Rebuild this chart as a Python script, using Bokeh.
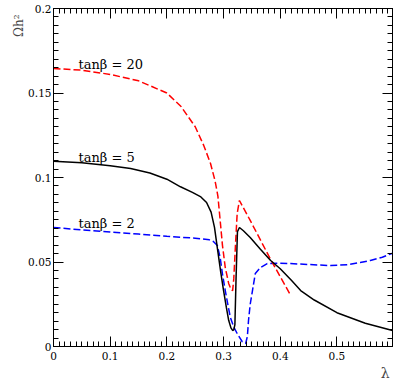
from bokeh.plotting import figure
from bokeh.models import Range1d, FixedTicker, LinearAxis, Label, Title, CustomJSTickFormatter
from bokeh.embed import file_html
from bokeh.resources import INLINE

# tan(beta) = 5 (solid black)
lam5 = [0.0, 0.05, 0.10, 0.136, 0.17, 0.20, 0.224, 0.245, 0.26, 0.27, 0.278, 0.284,
        0.29, 0.295, 0.30, 0.305, 0.309, 0.313, 0.316, 0.318, 0.320, 0.322, 0.3245,
        0.328, 0.335, 0.347, 0.365, 0.383, 0.40, 0.42, 0.436, 0.46, 0.50, 0.55, 0.598]
om5 = [0.1096, 0.1087, 0.1070, 0.1053, 0.1027, 0.0990, 0.0945, 0.0912, 0.0885, 0.0852, 0.0795, 0.0705,
       0.0560, 0.0440, 0.0330, 0.0230, 0.0155, 0.0110, 0.0095, 0.0098, 0.0130, 0.0400, 0.0680,
       0.0704, 0.0685, 0.0645, 0.0575, 0.0509, 0.0460, 0.0390, 0.0331, 0.0275, 0.0200, 0.0138, 0.0095]

# tan(beta) = 20 (dashed red)
lam20 = [0.0, 0.05, 0.10, 0.15, 0.20, 0.225, 0.25, 0.265, 0.277,
         0.285, 0.29, 0.294, 0.298, 0.303, 0.309, 0.3135, 0.316, 0.318, 0.321, 0.324,
         0.328, 0.347, 0.383, 0.418]
om20 = [0.1645, 0.1635, 0.1610, 0.1572, 0.1500, 0.1420, 0.1300, 0.1190, 0.1083,
        0.0980, 0.0890, 0.0746, 0.0600, 0.0467, 0.0373, 0.0335, 0.0331, 0.0400, 0.0600, 0.0787,
        0.0864, 0.0746, 0.0515, 0.0305]

# tan(beta) = 2 (dashed blue)
lam2 = [0.0, 0.05, 0.10, 0.15, 0.20, 0.25, 0.275, 0.282, 0.289, 0.294, 0.298, 0.303,
        0.308, 0.312, 0.318, 0.324, 0.333, 0.339, 0.342, 0.344, 0.347, 0.351, 0.356, 0.365,
        0.377, 0.40, 0.418, 0.45, 0.489, 0.52, 0.541, 0.559, 0.58, 0.598]
om2 = [0.0704, 0.0690, 0.0678, 0.0665, 0.0652, 0.0641, 0.0631, 0.0621, 0.0598, 0.0527, 0.0430, 0.0331,
       0.0240, 0.0172, 0.0115, 0.0077, 0.0028, 0.0018, 0.0060, 0.0154, 0.0250, 0.0331, 0.0432, 0.0467,
       0.0491, 0.0493, 0.0491, 0.0485, 0.0479, 0.0484, 0.0497, 0.0509, 0.0528, 0.0552]

x_ticks = [0.0, 0.1, 0.2, 0.3, 0.4, 0.5]
y_ticks = [0.0, 0.05, 0.1, 0.15, 0.2]

labels = ["tan\u03b2 = 20", "tan\u03b2 = 5", "tan\u03b2 = 2"]
label_x = [0.044, 0.044, 0.044]
label_y = [0.1669, 0.1118, 0.0728]

y_title = "\u03a9h\u00b2"
x_title = "\u03bb"

FONT = "DejaVu Serif"

p = figure(width=394, height=382, output_backend="svg", toolbar_location=None,
           x_range=Range1d(0, 0.598), y_range=Range1d(0, 0.2),
           min_border_left=53, min_border_right=2, min_border_top=8, min_border_bottom=36,
           x_axis_location=None, y_axis_location=None)
p.grid.visible = False
p.outline_line_color = "black"
p.outline_line_width = 1
p.background_fill_color = "white"
p.border_fill_color = "white"

x_minor = [round(i * 0.01, 3) for i in range(0, 60)]
y_minor = [round(i * 0.005, 4) for i in range(0, 41)]
fmt = CustomJSTickFormatter(code="return String(parseFloat(tick.toFixed(3)));")
blank = CustomJSTickFormatter(code="return '';")

def style_axis(ax):
    ax.axis_line_color = "black"
    ax.major_tick_line_color = "black"
    ax.minor_tick_line_color = "black"
    ax.major_tick_in = 10
    ax.major_tick_out = 0
    ax.minor_tick_in = 5
    ax.minor_tick_out = 0
    ax.major_label_text_font = FONT
    ax.major_label_text_font_size = "10.5px"
    ax.major_label_text_color = "black"

xb = LinearAxis(ticker=FixedTicker(ticks=x_ticks, minor_ticks=x_minor), formatter=fmt)
style_axis(xb)
xb.major_label_standoff = 5
p.add_layout(xb, "below")
xt = LinearAxis(ticker=FixedTicker(ticks=x_ticks, minor_ticks=x_minor), formatter=blank)
style_axis(xt)
xt.major_label_standoff = 0
p.add_layout(xt, "above")

yl = LinearAxis(ticker=FixedTicker(ticks=y_ticks, minor_ticks=y_minor), formatter=fmt)
style_axis(yl)
yl.major_label_standoff = 2
p.add_layout(yl, "left")
yr = LinearAxis(ticker=FixedTicker(ticks=y_ticks, minor_ticks=y_minor), formatter=blank)
style_axis(yr)
yr.major_label_standoff = 0
p.add_layout(yr, "right")

p.line(lam2, om2, line_color="#0000ff", line_width=1.5, line_dash="7 3")
p.line(lam20, om20, line_color="#ff0000", line_width=1.5, line_dash="7 3")
p.line(lam5, om5, line_color="black", line_width=1.5)

for t, lx, ly in zip(labels, label_x, label_y):
    p.add_layout(Label(x=lx, y=ly, text=t, text_font=FONT, text_font_size="13px",
                       text_color="black", text_align="left", text_baseline="alphabetic"))

p.add_layout(Title(text=y_title, align="right", text_font=FONT,
                   text_font_size="12px", text_font_style="normal", standoff=0, offset=6), "left")
p.add_layout(Title(text=x_title, align="right", text_font=FONT,
                   text_font_size="14px", text_font_style="normal", standoff=0, offset=3), "below")

open("out.html", "w").write(file_html(p, INLINE))
